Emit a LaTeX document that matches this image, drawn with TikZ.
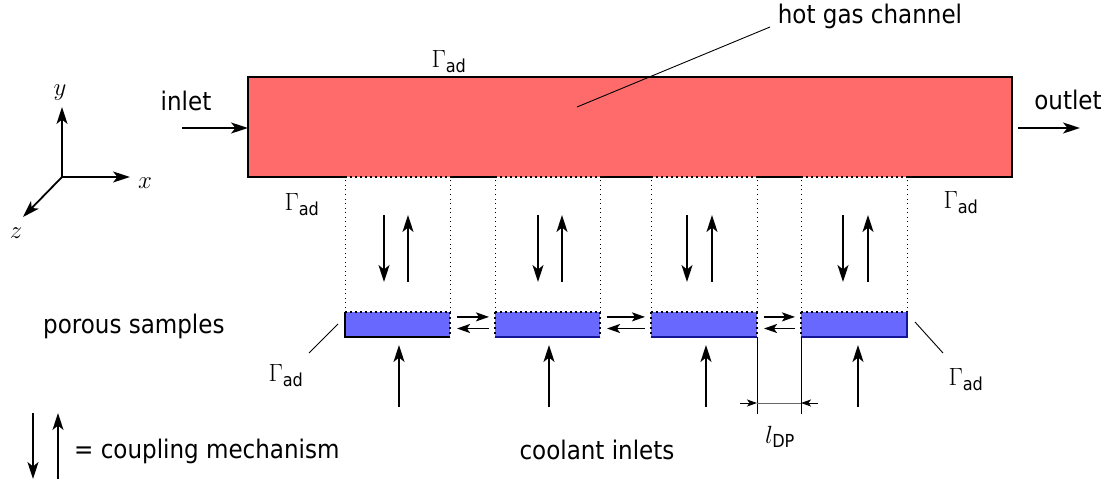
\documentclass[tikz,border=0pt]{standalone}
\usepackage{amsmath}
\usepackage{fontspec}
\setmainfont{DejaVu Sans Condensed}
\usetikzlibrary{arrows.meta}

\definecolor{hotgas}{RGB}{255,107,107}
\definecolor{sample}{RGB}{104,104,255}
\definecolor{sampleedge}{RGB}{20,20,150}

\newcommand{\gad}{$\Gamma_{\text{ad}}$}

\begin{document}
\begin{tikzpicture}[x=1pt,y=-1pt,
  font=\fontsize{25.6}{30}\selectfont,
  solidedge/.style={line width=1.7pt},
  dotedge/.style={line width=1.7pt, dash pattern=on 1.7pt off 3.3pt},
  guide/.style={line width=1pt, dash pattern=on 1pt off 3.5pt},
  flow/.style={line width=1.8pt, -{Stealth[length=17pt,width=11pt,inset=4.5pt]}},
  swap/.style={line width=1.8pt, -{Stealth[length=13pt,width=9pt,inset=3pt]}},
  leader/.style={line width=0.9pt},
  dimtip/.style={line width=1pt, -{Stealth[length=10pt,width=7pt,inset=2.5pt]}},
  porous/.style={fill=sample, inner sep=0pt, outer sep=0pt,
    minimum height=25pt, anchor=north west},
  lbl/.style={inner sep=0pt}]

\path[use as bounding box] (0,0) rectangle (1106,484);

% hot gas channel
\node[fill=hotgas, inner sep=0pt, outer sep=0pt, minimum width=764pt,
  minimum height=100pt] (ch) at (630,127) {};

% porous samples
\node[porous, minimum width=105pt] (s1) at (345,312) {};
\node[porous, minimum width=105pt] (s2) at (495,312) {};
\node[porous, minimum width=106pt] (s3) at (651,312) {};
\node[porous, minimum width=106pt] (s4) at (801,312) {};

% channel outline: solid walls, dotted interfaces above the samples
\draw[solidedge] (s1.west |- ch.south) -- (ch.south west) -- (ch.north west)
  -- (ch.north east) -- (ch.south east) -- (s4.east |- ch.south);
\draw[solidedge] (s1.east |- ch.south) -- (s2.west |- ch.south);
\draw[solidedge] (s2.east |- ch.south) -- (s3.west |- ch.south);
\draw[solidedge] (s3.east |- ch.south) -- (s4.west |- ch.south);
\foreach \s in {s1,s2,s3,s4}{
  \draw[dotedge] (\s.west |- ch.south) -- (\s.east |- ch.south);
  \draw[guide] (\s.north west) -- (\s.west |- ch.south);
  \draw[guide] (\s.north east) -- (\s.east |- ch.south);
  \draw[dotedge] (\s.north west) -- (\s.north east);
}

% sample outlines
\draw[solidedge] (s1.north west) -- (s1.south west) -- (s1.south east);
\draw[dotedge] (s1.north east) -- (s1.south east);
\draw[solidedge, sampleedge] (s2.south west) -- (s2.south east);
\draw[dotedge] (s2.north west) -- (s2.south west);
\draw[dotedge] (s2.north east) -- (s2.south east);
\draw[solidedge, sampleedge] (s3.south west) -- (s3.south east);
\draw[dotedge] (s3.north west) -- (s3.south west);
\draw[dotedge] (s3.north east) -- (s3.south east);
\draw[solidedge, sampleedge] (s4.south west) -- (s4.south east) -- (s4.north east);
\draw[dotedge] (s4.north west) -- (s4.south west);

% exchange between neighbouring samples
\foreach \a/\b in {s1/s2, s2/s3, s3/s4}{
  \draw[swap] ([xshift=7pt,yshift=7.6pt]\a.east) -- ([xshift=-6pt,yshift=7.6pt]\b.west);
  \draw[swap] ([xshift=-6pt,yshift=-4pt]\b.west) -- ([xshift=7pt,yshift=-4pt]\a.east);
}

% coupling mechanism between channel and samples
\foreach \d/\u in {384/408, 538/562, 687/712, 843/868}{
  \draw[flow] (\d,215) -- (\d,282);
  \draw[flow] (\u,282) -- (\u,215);
}

% coolant inlets
\foreach \x in {399,549,706,858}{
  \draw[flow] (\x,407) -- (\x,345);
}

% inlet / outlet
\node[lbl, anchor=base] (inl) at (186,111) {inlet};
\node[lbl, anchor=base] (outl) at (1068,110) {outlet};
\coordinate (inA) at (182,128);
\coordinate (outB) at (1080,128);
\draw[flow] (inA) -- (inA -| ch.west);
\draw[flow] ([xshift=6pt]ch.east |- outB) -- (outB);

% hot gas channel label
\node[lbl, anchor=base] (hgc) at (870,24) {hot gas channel};
\coordinate (hgcA) at (770,27);
\coordinate (hgcB) at (577,107);
\draw[leader] (hgcA) -- (hgcB);

% adiabatic boundaries
\node[lbl] (g1) at (449,62) {\gad};
\node[lbl] (g2) at (302,205) {\gad};
\node[lbl] (g3) at (961,203) {\gad};
\node[lbl] (g4) at (286,376) {\gad};
\node[lbl] (g5) at (966,380) {\gad};
\coordinate (g4A) at (309,353);
\coordinate (g4B) at (338,324);
\coordinate (g5A) at (915,322);
\coordinate (g5B) at (943,353);
\draw[leader] (g4A) -- (g4B);
\draw[leader] (g5A) -- (g5B);

% sample spacing
\coordinate (dA) at (s3.east |- 0,414);
\coordinate (dB) at (s4.west |- 0,414);
\draw[line width=0.9pt] (s3.south east) -- (dA);
\draw[line width=0.9pt] (s4.south west) -- (dB);
\draw[line width=1pt, black!60] (s3.east |- 0,403) -- (s4.west |- 0,403);
\draw[dimtip] (740,403) -- (s3.east |- 0,403);
\draw[dimtip] (818,403) -- (s4.west |- 0,403);
\node[lbl] (ldp) at (780,437) {$l_{\text{DP}}$};

% coordinate axes
\coordinate (O) at (62,177);
\coordinate (ax) at (130,177);
\coordinate (ay) at (62,107);
\coordinate (az) at (23,217);
\draw[flow] (O) -- (ax);
\draw[flow] (O) -- (ay);
\draw[flow] (O) -- (az);
\node[lbl] (lx) at (145,183) {$x$};
\node[lbl] (ly) at (60,93) {$y$};
\node[lbl] (lz) at (16,233) {$z$};

% other labels
\node[lbl, anchor=base west] (ps) at (43,333) {porous samples};
\node[lbl, anchor=base] (ci) at (597,459) {coolant inlets};

% legend
\coordinate (lgA) at (33,413);
\coordinate (lgB) at (33,479);
\coordinate (lgC) at (58,479);
\coordinate (lgD) at (58,413);
\draw[flow] (lgA) -- (lgB);
\draw[flow] (lgC) -- (lgD);
\node[lbl, anchor=base west] (lg) at (74,458) {= coupling mechanism};

\end{tikzpicture}
\end{document}
